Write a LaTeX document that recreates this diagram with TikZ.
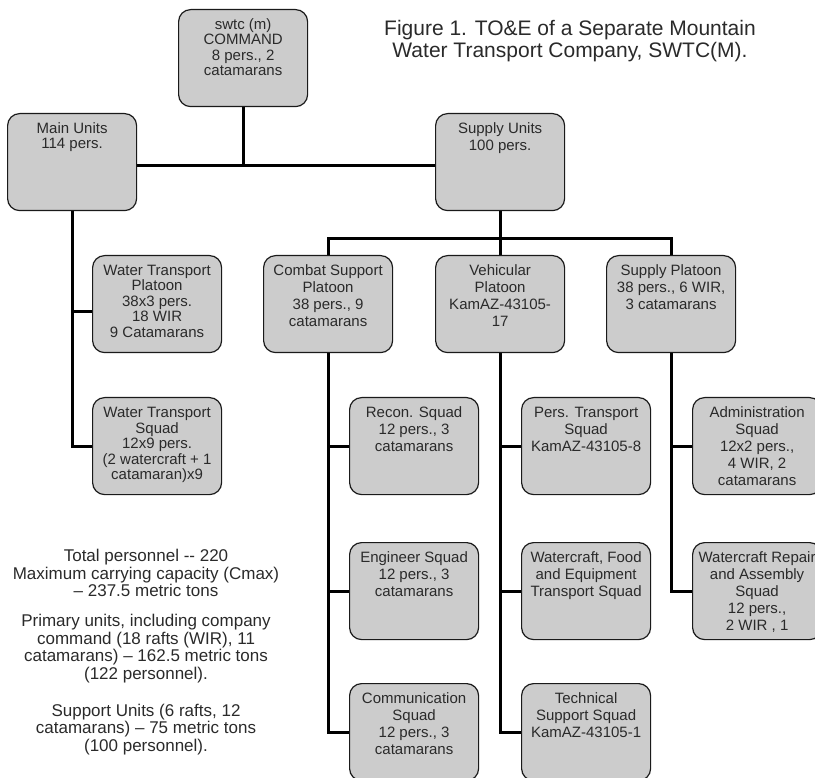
\documentclass[tikz,border=0pt]{standalone}
\usepackage{fontspec}
\setmainfont{Liberation Sans}
\definecolor{boxfill}{HTML}{CCCCCC}
\definecolor{edge}{HTML}{1A1A1A}
\definecolor{ink}{HTML}{2A2A2A}
\pgfdeclarelayer{bg}
\pgfsetlayers{bg,main}
\newcommand\orgbox[5][]{%
  \node[box] (#2) at (#3,#4) {};
  \node[btxt,#1] (#2t) at ([yshift=-8.3pt]#2.north) {\rule{0pt}{12pt}#5};%
}
\begin{document}
\begin{tikzpicture}[x=1pt,y=-1pt,
  box/.style={draw=edge, line width=1.2pt, fill=boxfill, rounded corners=12pt,
    minimum width=129pt, minimum height=97pt, inner sep=0pt, anchor=north west},
  btxt/.style={text=ink, align=center, inner sep=0pt, anchor=north,
    font=\fontsize{15}{17}\selectfont},
  tight/.style={font=\fontsize{15}{15.5}\selectfont},
  conn/.style={draw=black, line width=3pt, line join=miter},
  note/.style={text=ink, align=center, inner sep=0pt,
    font=\fontsize{17}{17.5}\selectfont},
  ttl/.style={text=ink, align=center, inner sep=0pt,
    font=\fontsize{21}{22}\selectfont},
]
\useasboundingbox (0,0) rectangle (815,778);

% boxes
\orgbox[tight]{cmd}{178}{9}{swtc (m)\\COMMAND\\8 pers., 2\\catamarans}
\orgbox[tight]{main}{7}{113}{Main Units\\114 pers.}
\orgbox{supu}{435}{113}{Supply Units\\100 pers.}
\orgbox[tight]{wtp}{92}{255}{Water Transport\\Platoon\\38x3 pers.\\18 WIR\\9 Catamarans}
\orgbox[tight]{wts}{92}{397}{Water Transport\\Squad\\12x9 pers.\\(2 watercraft + 1\\catamaran)x9}
\orgbox{cs}{263}{255}{Combat Support\\Platoon\\38 pers., 9\\catamarans}
\orgbox{vp}{435}{255}{Vehicular\\Platoon\\KamAZ-43105-\\17}
\orgbox{sp}{606}{255}{Supply Platoon\\38 pers., 6 WIR,\\3 catamarans}
\orgbox{recon}{349}{397}{Recon. Squad\\12 pers., 3\\catamarans}
\orgbox{eng}{349}{542}{Engineer Squad\\12 pers., 3\\catamarans}
\orgbox{comm}{349}{683}{Communication\\Squad\\12 pers., 3\\catamarans}
\orgbox{pt}{521}{397}{Pers. Transport\\Squad\\KamAZ-43105-8}
\orgbox{wfe}{521}{542}{Watercraft, Food\\and Equipment\\Transport Squad}
\orgbox{tech}{521}{683}{Technical\\Support Squad\\KamAZ-43105-1}
\orgbox{adm}{692}{397}{Administration\\Squad\\12x2 pers.,\\4 WIR, 2\\catamarans}
\orgbox{rep}{692}{542}{Watercraft Repair\\and Assembly\\Squad\\12 pers.,\\2 WIR , 1}

% title and notes
\node[ttl] (title) at (570,41) {Figure 1. TO\&E of a Separate Mountain\\Water Transport Company, SWTC(M).};
\node[note] (n1) at (146,573) {Total personnel -{}- 220\\Maximum carrying capacity (Cmax)\\– 237.5 metric tons};
\node[note] (n2) at (146,648.5) {Primary units, including company\\command (18 rafts (WIR), 11\\catamarans) – 162.5 metric tons\\(122 personnel).};
\node[note] (n3) at (146,729.5) {Support Units (6 rafts, 12\\catamarans) – 75 metric tons\\(100 personnel).};

% connectors
\coordinate (topbar) at (0,166);
\coordinate (bus) at (0,239);
\coordinate (wtpbar) at (0,312);
\begin{pgfonlayer}{bg}
\draw[conn] (cmd.south) -- (cmd.south |- topbar);
\draw[conn] (main.east |- topbar) -- (supu.west |- topbar);
\draw[conn] (main.south) -- (main.south |- wts.west) -- (wts.west);
\draw[conn] (main.south |- wtpbar) -- (wtp.west |- wtpbar);
\draw[conn] (supu.south) -- (supu.south |- bus);
\draw[conn] (cs.north) -- (cs.north |- bus) -- (sp.north |- bus) -- (sp.north);
\draw[conn] (vp.north) -- (vp.north |- bus);
\draw[conn] (cs.south) -- (cs.south |- comm.west) -- (comm.west);
\draw[conn] (cs.south |- recon.west) -- (recon.west);
\draw[conn] (cs.south |- eng.west) -- (eng.west);
\draw[conn] (vp.south) -- (vp.south |- tech.west) -- (tech.west);
\draw[conn] (vp.south |- pt.west) -- (pt.west);
\draw[conn] (vp.south |- wfe.west) -- (wfe.west);
\draw[conn] (sp.south) -- (sp.south |- rep.west) -- (rep.west);
\draw[conn] (sp.south |- adm.west) -- (adm.west);
\end{pgfonlayer}
\end{tikzpicture}
\end{document}
